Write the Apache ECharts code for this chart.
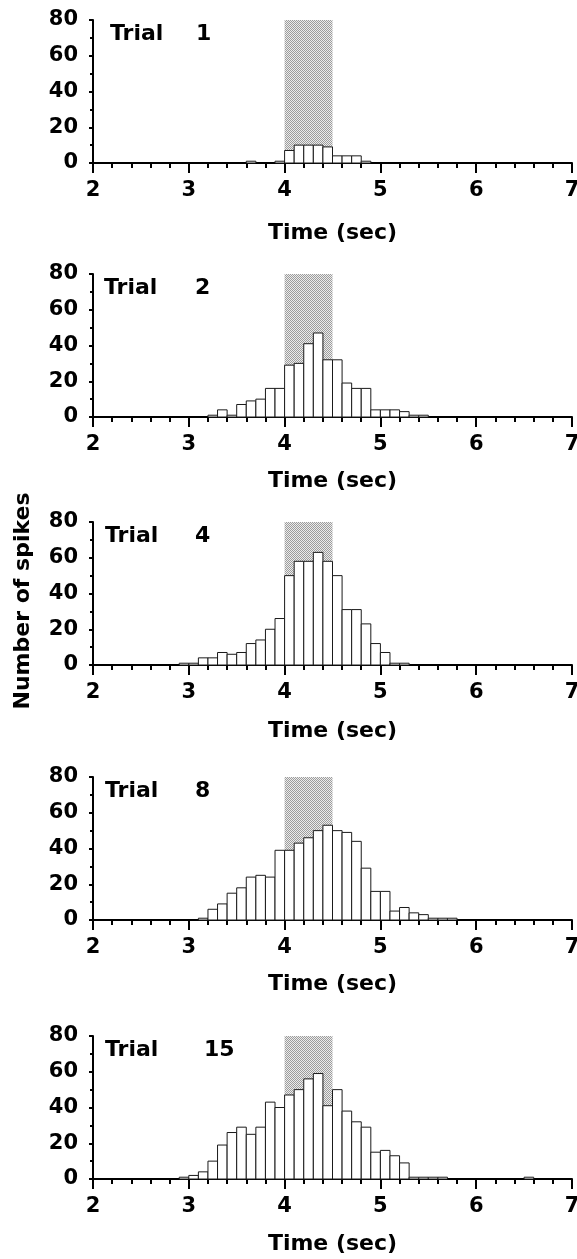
<!DOCTYPE html>
<html>
<head>
<meta charset="utf-8">
<script src="https://cdn.jsdelivr.net/npm/echarts@6/dist/echarts.min.js"></script>
<style>html,body{margin:0;padding:0;background:#fff}#c{width:577px;height:1259px}</style>
</head>
<body>
<div id="c"></div>
<script>
// ---- data ----
const binStarts = [2.0,2.1,2.2,2.3,2.4,2.5,2.6,2.7,2.8,2.9,
                   3.0,3.1,3.2,3.3,3.4,3.5,3.6,3.7,3.8,3.9,
                   4.0,4.1,4.2,4.3,4.4,4.5,4.6,4.7,4.8,4.9,
                   5.0,5.1,5.2,5.3,5.4,5.5,5.6,5.7,5.8,5.9,
                   6.0,6.1,6.2,6.3,6.4,6.5,6.6,6.7,6.8,6.9];
const binWidth = 0.1;
const trialLabels = ['1', '2', '4', '8', '15'];
const trial1Counts  = [0,0,0,0,0,0,0,0,0,0, 0,0,0,0,0,0,1,0,0,1, 7,10,10,10,9,4,4,4,1,0, 0,0,0,0,0,0,0,0,0,0, 0,0,0,0,0,0,0,0,0,0];
const trial2Counts  = [0,0,0,0,0,0,0,0,0,0, 0,0,1,4,1,7,9,10,16,16, 29,30,41,47,32,32,19,16,16,4, 4,4,3,1,1,0,0,0,0,0, 0,0,0,0,0,0,0,0,0,0];
const trial4Counts  = [0,0,0,0,0,0,0,0,0,1, 1,4,4,7,6,7,12,14,20,26, 50,58,58,63,58,50,31,31,23,12, 7,1,1,0,0,0,0,0,0,0, 0,0,0,0,0,0,0,0,0,0];
const trial8Counts  = [0,0,0,0,0,0,0,0,0,0, 0,1,6,9,15,18,24,25,24,39, 39,43,46,50,53,50,49,44,29,16, 16,5,7,4,3,1,1,1,0,0, 0,0,0,0,0,0,0,0,0,0];
const trial15Counts = [0,0,0,0,0,0,0,0,0,1, 2,4,10,19,26,29,25,29,43,40, 47,50,56,59,41,50,38,32,29,15, 16,13,9,1,1,1,1,0,0,0, 0,0,0,0,0,1,0,0,0,0];
const allCounts = [trial1Counts, trial2Counts, trial4Counts, trial8Counts, trial15Counts];
const stimWindow = [4.0, 4.5];
const xMin = 2, xMax = 7, yMin = 0, yMax = 80;
const xAxisTitle = 'Time (sec)';
const yAxisTitle = 'Number of spikes';

// ---- layout ----
const gridLeft = 93, gridRight = 5, gridHeight = 143;
const axisBottoms = [163, 417, 665, 920, 1179];
const nameGaps = [59, 53, 55, 53, 54];
const trialWordLeft = [110, 104, 105, 105, 105];
const trialNumLeft = [196, 195, 195, 195, 204];
const FONT = 'DejaVu Sans';

// stipple pattern for the stimulus window
const pc = document.createElement('canvas');
pc.width = 2; pc.height = 2;
const pctx = pc.getContext('2d');
pctx.fillStyle = '#ececec'; pctx.fillRect(0,0,2,2);
pctx.fillStyle = '#9c9c9c'; pctx.fillRect(0,0,1,1); pctx.fillRect(1,1,1,1);
const stipple = { image: pc, repeat: 'repeat' };

const grids = [], xAxes = [], yAxes = [], series = [], titles = [];
allCounts.forEach((counts, i) => {
  const top = axisBottoms[i] - gridHeight;
  grids.push({ left: gridLeft, right: gridRight, top: top, height: gridHeight, containLabel: false, outerBoundsMode: 'none' });
  xAxes.push({
    gridIndex: i, type: 'value', min: xMin, max: xMax, interval: 1,
    name: xAxisTitle, nameLocation: 'middle', nameGap: nameGaps[i],
    nameTextStyle: { fontFamily: FONT, fontWeight: 'bold', fontSize: 22, color: '#000' },
    axisLine: { show: true, onZero: false, lineStyle: { color: '#000', width: 2 } },
    axisTick: { show: true, inside: false, length: 10, lineStyle: { color: '#000', width: 2 } },
    minorTick: { show: true, splitNumber: 5, length: 5, lineStyle: { color: '#000', width: 2 } },
    axisLabel: { show: true, margin: 17, fontFamily: FONT, fontWeight: 'bold', fontSize: 21, color: '#000', showMinLabel: true, showMaxLabel: true, hideOverlap: false },
    splitLine: { show: false }
  });
  yAxes.push({
    gridIndex: i, type: 'value', min: yMin, max: yMax, interval: 20,
    axisLine: { show: true, lineStyle: { color: '#000', width: 2 } },
    axisTick: { show: true, inside: false, length: 4, lineStyle: { color: '#000', width: 2 } },
    minorTick: { show: true, splitNumber: 2, length: 3, lineStyle: { color: '#000', width: 2 } },
    axisLabel: { show: true, margin: 15, fontFamily: FONT, fontWeight: 'bold', fontSize: 21, color: '#000' },
    splitLine: { show: false }
  });
  // stimulus window shading
  series.push({
    type: 'line', xAxisIndex: i, yAxisIndex: i, data: [], z: 1, silent: true,
    markArea: { silent: true, itemStyle: { color: stipple, borderWidth: 0 },
      data: [[{ xAxis: stimWindow[0], yAxis: yMax }, { xAxis: stimWindow[1], yAxis: yMin }]] }
  });
  const data = [];
  binStarts.forEach((b, k) => { if (counts[k] > 0) data.push([b, counts[k]]); });
  series.push({
    type: 'custom', xAxisIndex: i, yAxisIndex: i, z: 3, silent: true,
    data: data, encode: { x: 0, y: 1 },
    renderItem: (params, api) => {
      const x0 = api.value(0), v = api.value(1);
      const p0 = api.coord([x0, v]);
      const p1 = api.coord([x0 + binWidth, 0]);
      return { type: 'rect',
        shape: { x: p0[0], y: p0[1], width: p1[0] - p0[0], height: p1[1] - p0[1] },
        style: { fill: '#fff', stroke: '#1a1a1a', lineWidth: 1 } };
    }
  });
  titles.push({ text: 'Trial', left: trialWordLeft[i], top: top + 3,
    textStyle: { fontFamily: FONT, fontWeight: 'bold', fontSize: 22, color: '#000' }, padding: 0 });
  titles.push({ text: trialLabels[i], left: trialNumLeft[i], top: top + 3,
    textStyle: { fontFamily: FONT, fontWeight: 'bold', fontSize: 22, color: '#000' }, padding: 0 });
});

const chart = echarts.init(document.getElementById('c'), null, { renderer: 'canvas' });
chart.setOption({
  animation: false,
  backgroundColor: '#fff',
  title: titles,
  grid: grids,
  xAxis: xAxes,
  yAxis: yAxes,
  series: series,
  graphic: [{
    type: 'text', x: 23, y: 601, rotation: Math.PI / 2,
    style: { text: yAxisTitle, fontFamily: FONT, fontWeight: 'bold', fontSize: 22, fill: '#000',
      textAlign: 'center', textVerticalAlign: 'middle' }
  }]
});
</script>
</body>
</html>
